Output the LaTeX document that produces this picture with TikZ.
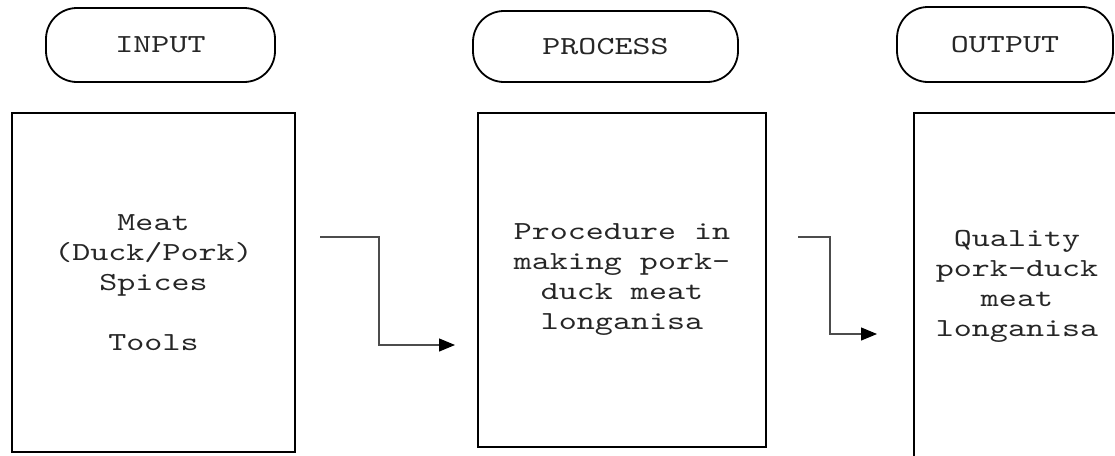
\documentclass[tikz,border=0pt]{standalone}
\usepackage{fontspec}
\usetikzlibrary{arrows.meta}
\newfontfamily\diagfont{lmmono10-regular.otf}[FakeStretch=1.32]
\newcommand{\diagtxt}{\diagfont\fontsize{26}{30}\selectfont}
\tikzset{
  box/.style={draw, line width=1.8pt, inner sep=0pt, align=center, font=\diagtxt, text=black!85},
  pill/.style={draw, line width=1.8pt, rounded corners=31pt, inner sep=0pt, font=\diagtxt, text=black!85},
  flow/.style={line width=1.2pt, draw=black!70, -{Triangle[length=16pt,width=13pt,black]}}
}
\begin{document}
\begin{tikzpicture}[x=1pt,y=-1pt]
\useasboundingbox (0,0) rectangle (1115,455);
\clip (0,0) rectangle (1115,455);
% header pills
\node[pill, minimum width=229pt, minimum height=74pt] (pin) at (160.5,45) {INPUT};
\node[pill, minimum width=265pt, minimum height=71pt] (pproc) at (605.5,46.5) {PROCESS};
\node[pill, minimum width=216pt, minimum height=75pt] (pout) at (1005,44.5) {OUTPUT};
% boxes
\node[box, minimum width=283pt, minimum height=339pt] (inbox) at (153.5,282.5)
  {Meat\\(Duck/Pork)\\Spices\\[30pt]Tools};
\node[box, minimum width=288pt, minimum height=334pt] (procbox) at (622,280)
  {Procedure in\\making pork-\\duck meat\\longanisa};
\node[box, minimum width=206pt, minimum height=346pt] (outbox) at (1017,286)
  {Quality\\pork-duck\\meat\\longanisa};
% connectors
\coordinate (a1s) at (320,237);
\coordinate (a1e) at (455,345);
\coordinate (a2s) at (798,237);
\coordinate (a2e) at (877,334);
\draw[flow] (a1s) -- ++(59,0) |- (a1e);
\draw[flow] (a2s) -- ++(32,0) |- (a2e);
\end{tikzpicture}
\end{document}
